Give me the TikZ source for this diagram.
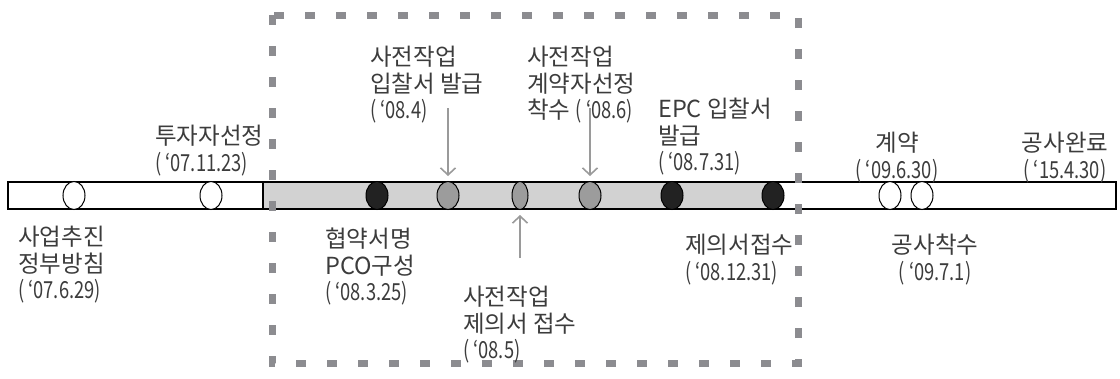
\documentclass[tikz,border=0pt]{standalone}
\usepackage{fontspec}
\setmainfont{Noto Sans CJK KR}
\newfontfamily\datef[FakeStretch=0.78]{Noto Sans CJK KR}
\usetikzlibrary{shapes.geometric,arrows.meta}
\definecolor{txt}{HTML}{3C3C3C}
\definecolor{barfill}{HTML}{D2D2D2}
\definecolor{midfill}{HTML}{9C9C9C}
\definecolor{darkfill}{HTML}{222222}
\definecolor{dashcol}{HTML}{8C8C90}
\definecolor{arrowcol}{HTML}{9A9A9A}
\tikzset{
  lbl/.style={inner sep=0pt, text=txt, font=\fontsize{23.5}{26.5}\selectfont, anchor=north west, align=left},
  lblc/.style={lbl, anchor=north, align=center},
  ev/.style={ellipse, draw=black, line width=1pt, minimum width=22pt, minimum height=28pt, inner sep=0pt},
  evwhite/.style={ev, fill=white},
  evgray/.style={ev, fill=midfill},
  evdark/.style={ev, fill=darkfill},
  pointer/.style={draw=arrowcol, line width=1.6pt, -{Straight Barb[length=7pt,width=15pt,line width=1.6pt]}, shorten >=5pt},
  framebox/.style={draw=dashcol, line width=7pt, dash pattern=on 10pt off 21pt}
}
\begin{document}
\begin{tikzpicture}[x=1pt,y=-1pt]
\useasboundingbox (0,0) rectangle (1120,378);
% bar
\fill[barfill] (263,182) rectangle (780,209);
\draw[line width=1.3pt] (8,182) rectangle (1116,209);
\draw[line width=1.3pt] (263,182) -- (263,209);
% events
\node[evwhite] (e1) at (74,195.5) {};
\node[evwhite] (e2) at (211,195.5) {};
\node[evdark] (e3) at (377,195.5) {};
\node[evgray] (e4) at (448,195.5) {};
\node[evgray, minimum width=16pt] (e5) at (520,195.5) {};
\node[evgray] (e6) at (590,195.5) {};
\node[evdark] (e7) at (672,195.5) {};
\node[evdark] (e8) at (773,195.5) {};
\node[evwhite] (e9) at (890,195.5) {};
\node[evwhite] (e10) at (922,195.5) {};
% dashed frame
\draw[framebox] (272,15) rectangle (798,363);
% labels
\node[lbl] (l1) at (18,226) {사업추진\\정부방침\\{\datef( ‘07.6.29)}};
\node[lbl] (l2) at (155,125) {투자자선정\\{\datef( ‘07.11.23)}};
\node[lbl] (l3) at (370,46) {사전작업\\입찰서 발급\\{\datef( ‘08.4)}};
\node[lbl] (l4) at (527,46) {사전작업\\계약자선정\\착수 {\datef( ‘08.6)}};
\node[lbl] (l5) at (658,98) {EPC 입찰서\\발급\\{\datef( ‘08.7.31)}};
\node[lblc] (l6) at (897,132) {계약\\{\datef( ‘09.6.30)}};
\node[lblc] (l7) at (1065,132) {공사완료\\{\datef( ‘15.4.30)}};
\node[lbl] (l8) at (325,228) {협약서명\\PCO구성\\{\datef( ‘08.3.25)}};
\node[lbl] (l9) at (463,286) {사전작업\\제의서 접수\\{\datef( ‘08.5)}};
\node[lbl] (l10) at (685,234) {제의서접수\\{\datef( ‘08.12.31)}};
\node[lblc] (l11) at (935,234) {공사착수\\{\datef( ‘09.7.1)}};
% arrows
\coordinate (a4) at (448,108);
\coordinate (a6) at (590,108);
\coordinate (a5) at (520,258);
\draw[pointer] (a4) -- (e4.north);
\draw[pointer] (a6) -- (e6.north);
\draw[pointer] (a5) -- (e5.south);
\end{tikzpicture}
\end{document}
